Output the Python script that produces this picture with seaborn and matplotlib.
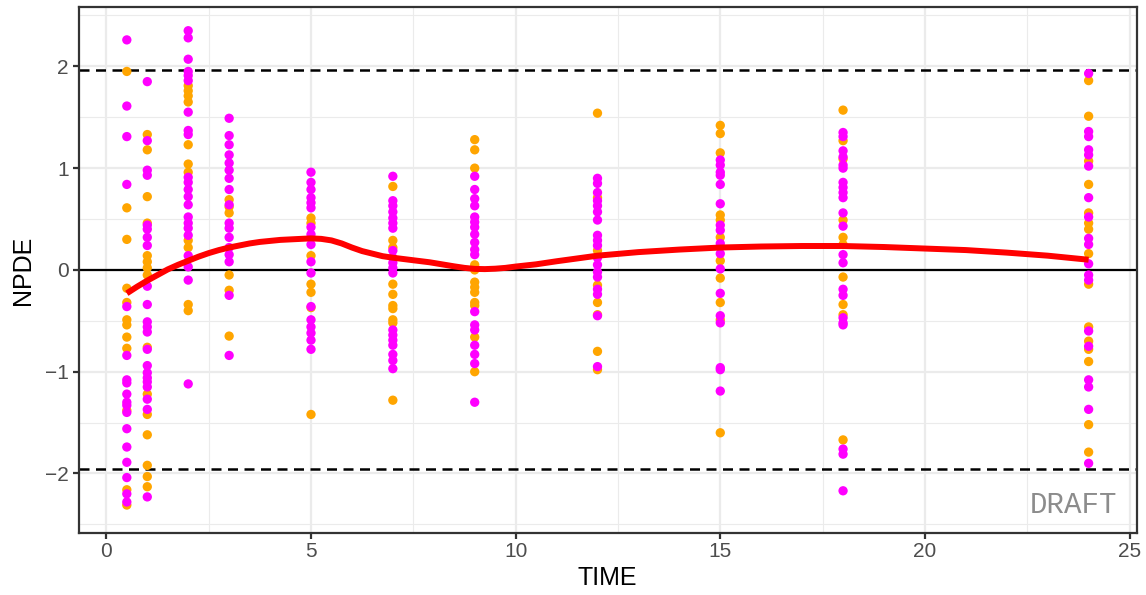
import matplotlib
matplotlib.use("Agg")
import matplotlib.pyplot as plt
import seaborn as sns
import pandas as pd
import numpy as np

# NPDE values, split by sampling time and group colour
time_points = [0.5, 1, 2, 3, 5, 7, 9, 12, 15, 18, 24]

orange_t0_5 = [1.95, 0.61, 0.30, -0.18, -0.32, -0.49, -0.54, -0.66, -0.77, -1.38, -2.16, -2.31]
magenta_t0_5 = [2.26, 1.61, 1.31, 0.84, -0.36, -0.84, -1.08, -1.11, -1.22, -1.30, -1.33, -1.40,
                -1.56, -1.74, -1.89, -2.04, -2.20, -2.28]
orange_t1 = [1.33, 1.18, 0.72, 0.46, 0.14, 0.08, 0.02, -0.05, -0.76, -1.22, -1.42, -1.62, -1.92,
             -2.03, -2.13]
magenta_t1 = [1.85, 1.27, 0.98, 0.93, 0.44, 0.40, 0.32, 0.24, -0.16, -0.34, -0.51, -0.56, -0.61,
              -0.78, -0.94, -1.01, -1.06, -1.10, -1.15, -1.27, -1.37, -2.23]
orange_t2 = [1.81, 1.76, 1.71, 1.65, 1.23, 1.04, 0.96, 0.29, 0.22, -0.34, -0.40]
magenta_t2 = [2.35, 2.28, 2.07, 1.95, 1.91, 1.86, 1.55, 1.37, 1.33, 0.91, 0.86, 0.79, 0.72, 0.64,
              0.52, 0.46, 0.41, 0.34, 0.14, 0.03, -0.10, -1.12]
orange_t3 = [0.69, 0.62, 0.56, -0.05, -0.20, -0.65]
magenta_t3 = [1.49, 1.32, 1.23, 1.13, 1.05, 0.98, 0.90, 0.79, 0.64, 0.46, 0.41, 0.32, 0.22, 0.15,
              0.08, -0.25, -0.84]
orange_t5 = [0.51, 0.46, 0.14, -0.14, -0.22, -0.37, -1.42]
magenta_t5 = [0.96, 0.86, 0.79, 0.71, 0.66, 0.61, 0.42, 0.35, 0.25, 0.08, -0.03, -0.36, -0.49,
              -0.56, -0.62, -0.69, -0.78]
orange_t7 = [0.82, 0.29, 0.22, -0.14, -0.24, -0.35, -0.38, -0.49, -0.52, -1.28]
magenta_t7 = [0.92, 0.68, 0.63, 0.57, 0.51, 0.46, 0.41, 0.19, 0.12, 0.07, 0.02, -0.03, -0.59,
              -0.64, -0.69, -0.74, -0.83, -0.89, -0.97]
orange_t9 = [1.28, 1.18, 1.00, 0.05, 0.00, -0.12, -0.17, -0.22, -0.32, -0.35, -0.66, -1.00]
magenta_t9 = [0.92, 0.79, 0.70, 0.63, 0.52, 0.47, 0.42, 0.35, 0.27, 0.20, 0.15, -0.41, -0.54,
              -0.59, -0.74, -0.83, -0.92, -1.30]
orange_t12 = [1.54, 0.71, 0.19, -0.15, -0.32, -0.44, -0.80, -0.98]
magenta_t12 = [0.90, 0.85, 0.76, 0.68, 0.63, 0.57, 0.49, 0.34, 0.29, 0.24, 0.12, 0.05, -0.02,
               -0.07, -0.19, -0.24, -0.45, -0.95]
orange_t15 = [1.42, 1.34, 1.15, 0.54, 0.49, 0.32, 0.09, -0.08, -0.32, -0.49, -1.60]
magenta_t15 = [1.08, 1.03, 0.96, 0.93, 0.84, 0.65, 0.44, 0.39, 0.26, 0.16, 0.01, -0.23, -0.45,
               -0.52, -0.96, -0.98, -1.19]
orange_t18 = [1.57, 1.27, 1.09, 0.49, 0.32, 0.25, -0.07, -0.34, -0.44, -1.67]
magenta_t18 = [1.35, 1.31, 1.17, 1.11, 1.03, 1.00, 0.86, 0.81, 0.76, 0.71, 0.56, 0.43, 0.15, 0.07,
               -0.19, -0.25, -0.47, -0.52, -0.54, -1.76, -1.81, -2.17]
orange_t24 = [1.86, 1.51, 1.07, 0.84, 0.56, 0.46, 0.40, 0.16, -0.14, -0.56, -0.70, -0.78, -0.90,
              -1.52, -1.79]
magenta_t24 = [1.93, 1.36, 1.31, 1.18, 1.13, 1.02, 0.71, 0.52, 0.31, 0.25, 0.06, -0.05, -0.10,
               -0.60, -0.75, -1.08, -1.15, -1.37, -1.90]

orange_groups = [orange_t0_5, orange_t1, orange_t2, orange_t3, orange_t5, orange_t7, orange_t9,
                 orange_t12, orange_t15, orange_t18, orange_t24]
magenta_groups = [magenta_t0_5, magenta_t1, magenta_t2, magenta_t3, magenta_t5, magenta_t7,
                  magenta_t9, magenta_t12, magenta_t15, magenta_t18, magenta_t24]

# smoothed trend
smooth_time = [0.5, 0.75, 1, 1.25, 1.5, 1.75, 2, 2.25, 2.5, 2.75, 3, 3.25, 3.5, 3.75, 4, 4.25,
               4.5, 4.75, 5, 5.25, 5.5, 5.75, 6, 6.25, 6.5, 6.75, 7, 7.3, 7.6, 7.9, 8.2, 8.5,
               8.75, 9, 9.25, 9.5, 9.75, 10, 10.5, 11, 12, 13, 14, 15, 16, 17, 18, 19, 20, 21,
               22, 23, 24]
smooth_npde = [-0.23, -0.165, -0.105, -0.05, 0.005, 0.05, 0.09, 0.13, 0.165, 0.195, 0.22, 0.24,
               0.26, 0.275, 0.285, 0.295, 0.30, 0.305, 0.31, 0.305, 0.29, 0.26, 0.22, 0.185,
               0.16, 0.135, 0.12, 0.105, 0.09, 0.075, 0.055, 0.035, 0.02, 0.01, 0.008, 0.012,
               0.02, 0.033, 0.055, 0.085, 0.14, 0.175, 0.20, 0.22, 0.23, 0.235, 0.235, 0.225,
               0.21, 0.195, 0.17, 0.14, 0.10]

ref_lines = [-1.96, 1.96]
x_ticks = [0, 5, 10, 15, 20, 25]
y_ticks = [-2, -1, 0, 1, 2]

ORANGE = "#FFA500"
MAGENTA = "#FF00FF"
GREY20 = "#333333"


def build_frame():
    rows = []
    for name, groups in (("orange", orange_groups), ("magenta", magenta_groups)):
        for t, vals in zip(time_points, groups):
            for v in vals:
                rows.append({"TIME": t, "NPDE": v, "grp": name})
    return pd.DataFrame(rows)


sns.set_theme(style="white")
plt.rcParams["font.family"] = ["Liberation Sans", "DejaVu Sans"]

df = build_frame()
smooth_df = pd.DataFrame({"TIME": smooth_time, "NPDE": smooth_npde})

fig = plt.figure(figsize=(11.46, 5.95), dpi=100)
ax = fig.add_axes([0.0687, 0.105, 0.9232, 0.8827])
ax.set_facecolor("white")

# grid
ax.set_xticks(x_ticks)
ax.set_yticks(y_ticks)
ax.set_xticks(np.arange(2.5, 25, 5), minor=True)
ax.set_yticks(np.arange(-2.5, 2.6, 1.0), minor=True)
ax.grid(True, which="major", color="#EBEBEB", linewidth=1.6, zorder=0)
ax.grid(True, which="minor", color="#EBEBEB", linewidth=0.8, zorder=0)
ax.set_axisbelow(True)

# reference lines
for yv in ref_lines:
    ax.axhline(yv, color="black", linewidth=1.8, linestyle=(0, (4, 2.6)), zorder=1.5)
ax.axhline(0, color="black", linewidth=1.6, zorder=1.5)

sns.scatterplot(data=df, x="TIME", y="NPDE", hue="grp",
                palette={"orange": ORANGE, "magenta": MAGENTA},
                s=45, linewidth=0, legend=False, ax=ax, zorder=2)

sns.lineplot(data=smooth_df, x="TIME", y="NPDE", estimator=None, sort=False,
             color="#FF0000", linewidth=4.3, ax=ax, zorder=3)
ax.lines[-1].set_solid_capstyle("butt")
ax.lines[-1].set_solid_joinstyle("round")

ax.set_xlim(-0.675, 25.175)
ax.set_ylim(-2.58, 2.58)
ax.set_yticklabels(["\u22122", "\u22121", "0", "1", "2"])

for side in ax.spines.values():
    side.set_visible(True)
    side.set_color(GREY20)
    side.set_linewidth(1.6)

ax.tick_params(which="major", direction="out", length=4.6, width=1.6, color=GREY20,
               labelsize=15, labelcolor="#4D4D4D", pad=2.5,
               bottom=True, left=True)
ax.tick_params(which="minor", length=0)

ax.set_xlabel("TIME", fontsize=18, color="black", labelpad=3)
ax.set_ylabel("NPDE", fontsize=18, color="black", labelpad=7)

ax.text(0.9817, 0.0377, "DRAFT", transform=ax.transAxes, ha="right", va="baseline",
        fontsize=21, color="#8C8C8C", family=["Liberation Mono", "DejaVu Sans Mono"])

fig.savefig("out.png", dpi=100)
